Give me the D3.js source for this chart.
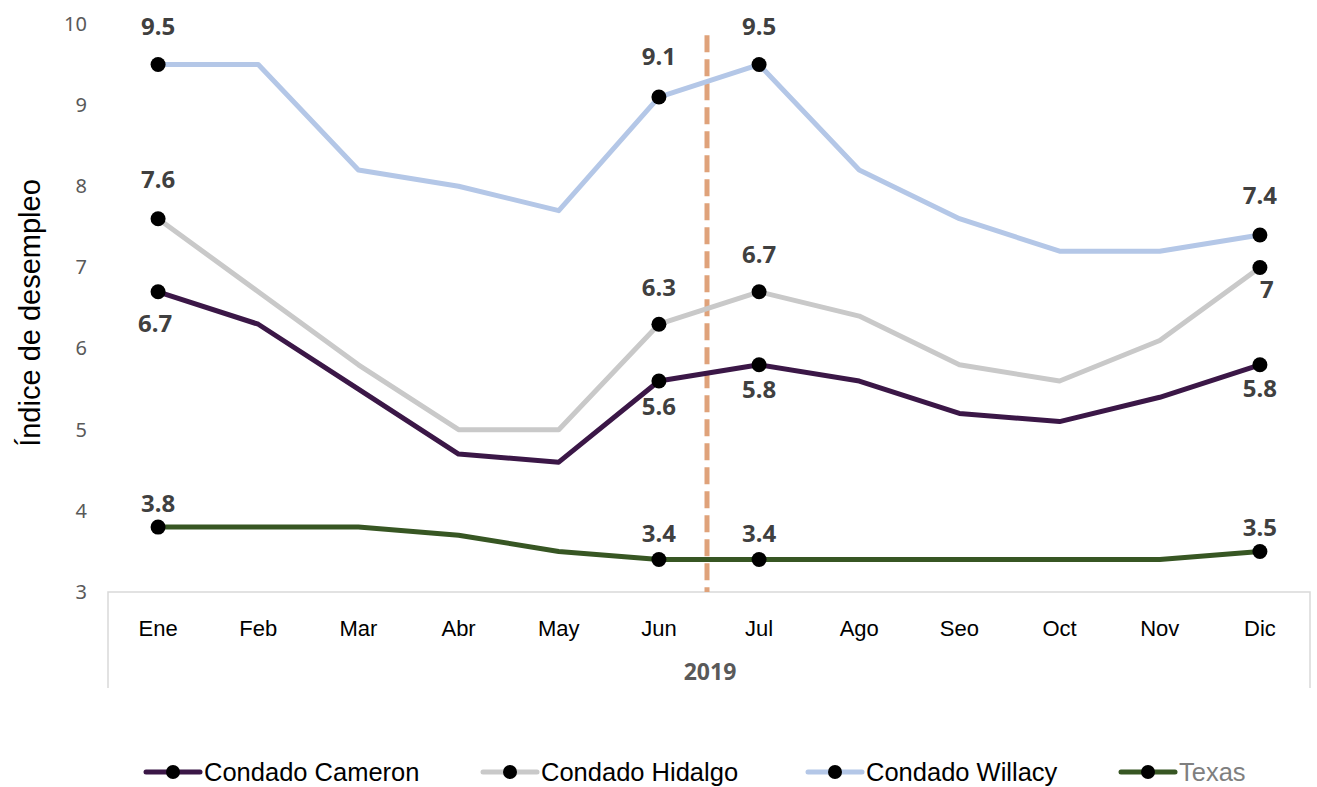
<!DOCTYPE html>
<html>
<head>
<meta charset="utf-8">
<script src="https://cdn.jsdelivr.net/npm/d3@7"></script>
<style>
    body { margin: 0; background: #fff; }
</style>
</head>
<body>
<script>
// main js file

//anonymous function to keep variables local
(function(){

//months on the x axis
var months = ["Ene", "Feb", "Mar", "Abr", "May", "Jun", "Jul", "Ago", "Seo", "Oct", "Nov", "Dic"];
var yearLabel = "2019";

//series names (legend order)
var seriesNames = ["Condado Cameron", "Condado Hidalgo", "Condado Willacy", "Texas"];

//unemployment index by month
var cameron = [6.7, 6.3, 5.5, 4.7, 4.6, 5.6, 5.8, 5.6, 5.2, 5.1, 5.4, 5.8];
var hidalgo = [7.6, 6.7, 5.8, 5.0, 5.0, 6.3, 6.7, 6.4, 5.8, 5.6, 6.1, 7.0];
var willacy = [9.5, 9.5, 8.2, 8.0, 7.7, 9.1, 9.5, 8.2, 7.6, 7.2, 7.2, 7.4];
var texas   = [3.8, 3.8, 3.8, 3.7, 3.5, 3.4, 3.4, 3.4, 3.4, 3.4, 3.4, 3.5];

//y ticks
var yTicks = [3, 4, 5, 6, 7, 8, 9, 10];

//months that get a marker and a label
var markedMonths = ["Ene", "Jun", "Jul", "Dic"];

//dashed reference line sits between these two months
var splitMonths = ["Jun", "Jul"];
var splitTop = 9.86;

//chart size
var width = 1317,
    height = 787;

//series colours
var colors = ["#3b1747", "#c9c9c9", "#b4c7e7", "#375623"];

//label offsets (pixels from the point, per series then per marked month)
var labelDy = [
    [40, 34, 33, 32],
    [-31, -28, -29, 31],
    [-30, -32, -30, -31],
    [-15, -18, -18, -15]
];
var labelDx = [
    [-3, 0, 0, 0],
    [0, 0, 0, 7],
    [0, 0, 0, 0],
    [0, 0, 0, 0]
];

var seriesValues = [cameron, hidalgo, willacy, texas];

//container svg
var svg = d3.select("body")
    .append("svg")
    .attr("width", width)
    .attr("height", height)
    .style("font-family", "'Liberation Sans', Arial, sans-serif");

//scales
var x = d3.scaleBand()
    .domain(months)
    .range([108, 1310]);

var y = d3.scaleLinear()
    .domain([3, 10])
    .range([592, 24]);

function cx(m){
    return x(m) + x.bandwidth() / 2;
};

//y axis, labels only
var yAxis = svg.append("g")
    .attr("transform", "translate(87,0)")
    .call(d3.axisLeft(y).tickValues(yTicks).tickFormat(d3.format("d")).tickSize(0).tickPadding(0));
yAxis.select(".domain").remove();
yAxis.selectAll("text")
    .attr("font-family", "'Noto Sans', sans-serif")
    .attr("font-size", 20)
    .attr("fill", "#595959");

//y title
svg.append("text")
    .attr("transform", "translate(40,313) rotate(-90)")
    .attr("text-anchor", "middle")
    .attr("font-size", 29)
    .attr("fill", "#000")
    .text("Índice de desempleo");

//category axis box (two level axis like excel)
var boxBottom = 688;
svg.append("path")
    .attr("d", "M" + x.range()[0] + "," + boxBottom + "V" + y(3) + "H" + x.range()[1] + "V" + boxBottom)
    .attr("fill", "none")
    .attr("stroke", "#d9d9d9")
    .attr("stroke-width", 1.5);

//month labels
svg.selectAll(".month")
    .data(months)
    .enter()
    .append("text")
    .attr("class", "month")
    .attr("x", function(d){ return cx(d); })
    .attr("y", 636)
    .attr("text-anchor", "middle")
    .attr("font-size", 22)
    .attr("fill", "#000")
    .text(function(d){ return d; });

//year label
svg.append("text")
    .attr("x", (x.range()[0] + x.range()[1]) / 2 + 1)
    .attr("y", 680)
    .attr("text-anchor", "middle")
    .attr("font-family", "'Noto Sans', sans-serif")
    .attr("font-weight", "bold")
    .attr("font-size", 23)
    .attr("fill", "#595959")
    .text(yearLabel);

//dashed reference line
var splitX = (cx(splitMonths[0]) + cx(splitMonths[1])) / 2 - 2;
svg.append("line")
    .attr("x1", splitX)
    .attr("x2", splitX)
    .attr("y1", y(splitTop))
    .attr("y2", y(3))
    .attr("stroke", "#dfa27a")
    .attr("stroke-width", 5)
    .attr("stroke-dasharray", "17,7");

//line generator
var line = d3.line()
    .x(function(d, i){ return cx(months[i]); })
    .y(function(d){ return y(d); });

//draw the lines (texas first so the counties sit above it)
var drawOrder = [3, 1, 2, 0];
drawOrder.forEach(function(s){
    svg.append("path")
        .datum(seriesValues[s])
        .attr("fill", "none")
        .attr("stroke", colors[s])
        .attr("stroke-width", 5)
        .attr("stroke-linejoin", "round")
        .attr("d", line);
});

//markers and labels
seriesValues.forEach(function(vals, s){
    markedMonths.forEach(function(m, k){
        var i = months.indexOf(m);
        svg.append("circle")
            .attr("cx", cx(m))
            .attr("cy", y(vals[i]))
            .attr("r", 7.5)
            .attr("fill", "#000");

        svg.append("text")
            .attr("x", cx(m) + labelDx[s][k])
            .attr("y", y(vals[i]) + labelDy[s][k])
            .attr("text-anchor", "middle")
            .attr("font-family", "'Noto Sans', sans-serif")
            .attr("font-weight", "bold")
            .attr("font-size", 24)
            .attr("fill", "#404040")
            .text(d3.format("~g")(vals[i]));
    });
});

//legend
var legendX = [146, 483, 808, 1121];
var legendY = 772;
var legend = svg.selectAll(".legend")
    .data(seriesNames)
    .enter()
    .append("g")
    .attr("class", "legend")
    .attr("transform", function(d, i){ return "translate(" + legendX[i] + "," + legendY + ")"; });

legend.append("line")
    .attr("x1", 0)
    .attr("x2", 54)
    .attr("stroke", function(d, i){ return colors[i]; })
    .attr("stroke-width", 5)
    .attr("stroke-linecap", "round");

legend.append("circle")
    .attr("cx", 27)
    .attr("r", 7)
    .attr("fill", "#000");

legend.append("text")
    .attr("x", 58)
    .attr("y", 8.5)
    .attr("font-size", 25.5)
    .attr("fill", function(d, i){ return i == 3 ? "#7f7f7f" : "#000"; })
    .text(function(d){ return d; });

})(); //end
</script>
</body>
</html>
